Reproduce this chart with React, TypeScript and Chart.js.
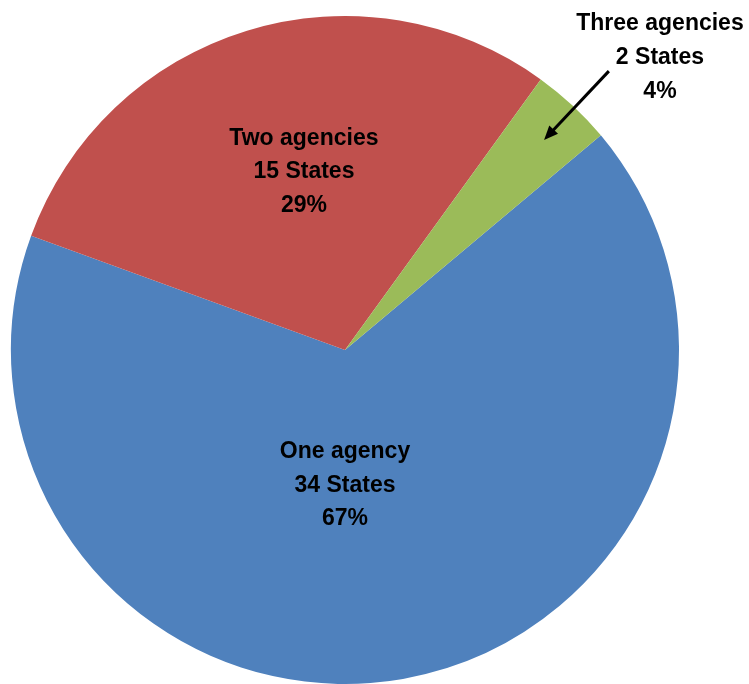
import React, { useEffect, useRef } from "react";
import { Chart, registerables } from "chart.js";

Chart.register(...registerables);

const categories = ["One agency", "Two agencies", "Three agencies"];
const stateCounts = [34, 15, 2];
const percentLabels = ["67%", "29%", "4%"];
const sliceColors = ["#4F81BD", "#C0504D", "#9BBB59"];

// label anchors as fractions of the pie radius, relative to the pie centre (middle line baseline)
const labelAnchors = [
  { fx: 0.0, fy: 0.424 },
  { fx: -0.123, fy: -0.514 },
  { fx: 0.943, fy: -0.856 },
];
const arrowFrom = { fx: 0.79, fy: -0.835 };
const arrowTo = { fx: 0.596, fy: -0.629 };

const labelPlugin = {
  id: "sliceLabels",
  afterDraw(chart: any) {
    const meta = chart.getDatasetMeta(0);
    const arc0 = meta.data[0];
    if (!arc0) return;
    const cx = arc0.x;
    const cy = arc0.y;
    const r = arc0.outerRadius;
    const ctx = chart.ctx;
    ctx.save();
    ctx.fillStyle = "#000000";
    ctx.font = "bold 23px 'Liberation Sans', Arial, sans-serif";
    ctx.textAlign = "center";
    ctx.textBaseline = "alphabetic";
    const lh = 33.6;
    categories.forEach((cat, i) => {
      const a = labelAnchors[i];
      const x = cx + a.fx * r;
      const y = cy + a.fy * r;
      const lines = [cat, `${stateCounts[i]} States`, percentLabels[i]];
      lines.forEach((t, j) => ctx.fillText(t, x, y + (j - 1) * lh));
    });
    // arrow
    const x1 = cx + arrowFrom.fx * r;
    const y1 = cy + arrowFrom.fy * r;
    const x2 = cx + arrowTo.fx * r;
    const y2 = cy + arrowTo.fy * r;
    const ang = Math.atan2(y2 - y1, x2 - x1);
    const headLen = 14;
    const headW = 6;
    ctx.strokeStyle = "#000000";
    ctx.lineWidth = 3;
    ctx.beginPath();
    ctx.moveTo(x1, y1);
    ctx.lineTo(x2 - Math.cos(ang) * headLen * 0.8, y2 - Math.sin(ang) * headLen * 0.8);
    ctx.stroke();
    ctx.beginPath();
    ctx.moveTo(x2, y2);
    ctx.lineTo(
      x2 - Math.cos(ang) * headLen + Math.sin(ang) * headW,
      y2 - Math.sin(ang) * headLen - Math.cos(ang) * headW
    );
    ctx.lineTo(
      x2 - Math.cos(ang) * headLen - Math.sin(ang) * headW,
      y2 - Math.sin(ang) * headLen + Math.cos(ang) * headW
    );
    ctx.closePath();
    ctx.fill();
    ctx.restore();
  },
};

export default function App() {
  const canvasRef = useRef<HTMLCanvasElement | null>(null);

  useEffect(() => {
    document.body.style.margin = "0";
    if (!canvasRef.current) return;
    const chart = new Chart(canvasRef.current, {
      type: "pie",
      data: {
        labels: categories,
        datasets: [
          {
            data: stateCounts,
            backgroundColor: sliceColors,
            borderWidth: 0,
          },
        ],
      },
      options: {
        animation: false,
        responsive: false,
        rotation: 50,
        layout: { padding: { left: 11, right: 70, top: 16, bottom: 0 } },
        plugins: {
          legend: { display: false },
          tooltip: { enabled: false },
        },
      },
      plugins: [labelPlugin],
    });
    return () => chart.destroy();
  }, []);

  return (
    <div style={{ width: 749, height: 684, background: "#ffffff" }}>
      <canvas ref={canvasRef} width={749} height={684} style={{ display: "block" }} />
    </div>
  );
}
